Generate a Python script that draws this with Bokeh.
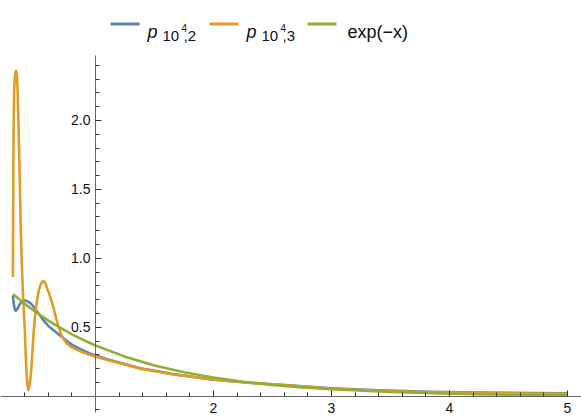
from bokeh.plotting import figure
from bokeh.models import (Range1d, LinearAxis, FixedTicker, PrintfTickFormatter,
                          Label, BoxAnnotation, ColumnDataSource)
from bokeh.embed import file_html
from bokeh.resources import INLINE

# ---- data ----
x_p2 = [0.300, 0.305, 0.311, 0.318, 0.325, 0.335, 0.350, 0.365, 0.380, 0.400,
        0.420, 0.440, 0.460, 0.480, 0.500, 0.530, 0.560, 0.600, 0.650, 0.700,
        0.750, 0.800, 0.850, 0.900, 0.950, 1.000, 1.100, 1.200, 1.380, 1.660,
        2.000, 2.300, 2.600, 3.000, 3.400, 3.850, 4.250, 4.700, 5.000]
y_p2 = [0.730, 0.690, 0.650, 0.625, 0.620, 0.630, 0.655, 0.675, 0.688, 0.695,
        0.690, 0.680, 0.665, 0.645, 0.620, 0.585, 0.550, 0.510, 0.475, 0.440,
        0.405, 0.375, 0.350, 0.330, 0.310, 0.295, 0.268, 0.245, 0.203, 0.160,
        0.119, 0.097, 0.081, 0.057, 0.042, 0.032, 0.027, 0.023, 0.021]

x_p3 = [0.300, 0.302, 0.304, 0.307, 0.311, 0.316, 0.322, 0.328, 0.334, 0.340,
        0.346, 0.352, 0.358, 0.367, 0.376, 0.384, 0.393, 0.401, 0.408, 0.414,
        0.421, 0.430, 0.439, 0.447, 0.455, 0.466, 0.477, 0.491, 0.506, 0.520,
        0.535, 0.550, 0.562, 0.575, 0.590, 0.605, 0.620, 0.635, 0.650, 0.665,
        0.680, 0.700, 0.720, 0.740, 0.760, 0.790, 0.820, 0.850, 0.900, 0.950,
        1.000, 1.100, 1.200, 1.380, 1.660, 2.000, 2.300, 2.600, 3.000, 3.400,
        3.850, 4.250, 4.700, 5.000]
y_p3 = [0.865, 1.300, 1.700, 2.020, 2.220, 2.310, 2.350, 2.360, 2.330, 2.220,
        2.000, 1.800, 1.580, 1.200, 0.950, 0.770, 0.610, 0.480, 0.320, 0.190,
        0.095, 0.045, 0.075, 0.120, 0.190, 0.330, 0.480, 0.610, 0.700, 0.770,
        0.810, 0.830, 0.835, 0.820, 0.780, 0.750, 0.710, 0.670, 0.620, 0.570,
        0.520, 0.470, 0.430, 0.400, 0.380, 0.360, 0.345, 0.333, 0.316, 0.300,
        0.288, 0.262, 0.240, 0.200, 0.158, 0.122, 0.098, 0.080, 0.054, 0.039,
        0.029, 0.024, 0.020, 0.018]

x_exp = [0.3, 0.4, 0.5, 0.6, 0.7, 0.8, 0.9, 1.0, 1.25, 1.5, 1.75, 2.0, 2.25,
         2.5, 2.75, 3.0, 3.5, 4.0, 4.5, 5.0]
y_exp = [0.741, 0.670, 0.607, 0.549, 0.497, 0.449, 0.407, 0.368, 0.287, 0.223,
         0.174, 0.135, 0.105, 0.082, 0.064, 0.050, 0.030, 0.018, 0.011, 0.0067]

x_major = [2, 3, 4, 5]
x_minor = [0.4, 0.6, 0.8, 1.2, 1.4, 1.6, 1.8, 2.2, 2.4, 2.6, 2.8, 3.2, 3.4,
           3.6, 3.8, 4.2, 4.4, 4.6, 4.8]
y_major = [0.5, 1.0, 1.5, 2.0]
y_minor = [-0.1, 0.1, 0.2, 0.3, 0.4, 0.6, 0.7, 0.8, 0.9, 1.1, 1.2, 1.3, 1.4,
           1.6, 1.7, 1.8, 1.9, 2.1, 2.2, 2.3, 2.4]

C_BLUE = "#5E81B5"
C_ORANGE = "#E19C24"
C_GREEN = "#8FB032"
FONT = "Liberation Sans"

W, H = 581, 420

p = figure(width=W, height=H, output_backend="svg", toolbar_location=None,
           x_axis_type=None, y_axis_type=None,
           x_range=Range1d(0.1949, 5.1186), y_range=Range1d(-0.1763, 2.8705),
           min_border=0)
p.outline_line_color = None
p.background_fill_color = "white"
p.border_fill_color = "white"

for xs, ys, col in [(x_p2, y_p2, C_BLUE), (x_p3, y_p3, C_ORANGE), (x_exp, y_exp, C_GREEN)]:
    src = ColumnDataSource(dict(x=xs, y=ys))
    p.line("x", "y", source=src, line_color=col, line_width=2.6, line_join="round")

def style_axis(ax):
    ax.axis_line_color = "#666666"
    ax.axis_line_width = 1
    ax.major_tick_line_color = "#333333"
    ax.minor_tick_line_color = "#333333"
    ax.major_tick_in = 6
    ax.major_tick_out = 0
    ax.minor_tick_in = 4
    ax.minor_tick_out = 0
    ax.major_label_text_font = FONT
    ax.major_label_text_font_size = "14px"
    ax.major_label_text_color = "#111111"

xaxis = LinearAxis(fixed_location=0,
                   ticker=FixedTicker(ticks=x_major, minor_ticks=x_minor))
style_axis(xaxis)
xaxis.major_label_standoff = 7
p.add_layout(xaxis, "below")

yaxis = LinearAxis(fixed_location=1, bounds=(-0.12, 2.47),
                   ticker=FixedTicker(ticks=y_major, minor_ticks=y_minor),
                   formatter=PrintfTickFormatter(format="%.1f"))
style_axis(yaxis)
yaxis.major_label_standoff = 5
p.add_layout(yaxis, "left")

# ---- legend (top, horizontal) ----
def sy(y_from_top):
    return H - y_from_top

def swatch(x0, col):
    p.add_layout(BoxAnnotation(left=x0, right=x0 + 29, top=sy(22), bottom=sy(25),
                               left_units="screen", right_units="screen",
                               top_units="screen", bottom_units="screen",
                               fill_color=col, fill_alpha=1, line_color=None))

def txt(x, y, s, size, style="normal"):
    p.add_layout(Label(x=x, y=sy(y), x_units="screen", y_units="screen", text=s,
                       text_font=FONT, text_font_size=size, text_font_style=style,
                       text_color="#111111", text_baseline="alphabetic",
                       text_align="left"))

for i, (col, sub) in enumerate([(C_BLUE, ",2"), (C_ORANGE, ",3")]):
    off = i * 99
    swatch(110 + off, col)
    txt(147 + off, 31, "p", "18px", "italic")
    txt(162 + off, 35, "10", "15px")
    txt(181 + off, 27, "4", "10px")
    txt(183 + off, 35, sub, "15px")

swatch(307, C_GREEN)
txt(347, 31, "exp(\u2212x)", "18px")

open("out.html", "w").write(file_html(p, INLINE))
